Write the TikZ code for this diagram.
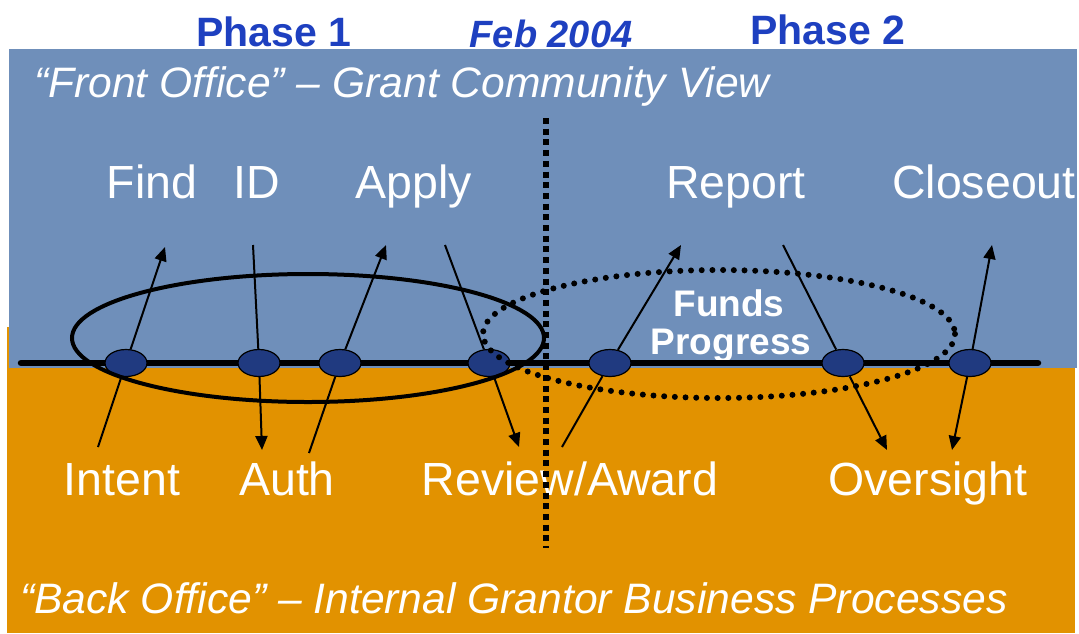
\documentclass[tikz,border=0pt]{standalone}
\usepackage{fontspec}
\setmainfont{Liberation Sans}
\usetikzlibrary{shapes.geometric,arrows.meta}
\definecolor{frontblue}{RGB}{111,143,186}
\definecolor{backorange}{RGB}{226,146,0}
\definecolor{titleblue}{RGB}{30,64,192}
\definecolor{stepfill}{RGB}{32,58,128}
\tikzset{
  lbl/.style={text=white,anchor=base,inner sep=0pt,font=\fontsize{46.5}{52}\selectfont},
  bigital/.style={text=white,anchor=base west,inner sep=0pt,font=\fontsize{42.6}{48}\selectfont\itshape},
  phase/.style={text=titleblue,anchor=base,inner sep=0pt,font=\fontsize{41}{46}\selectfont\bfseries},
  fundslbl/.style={text=white,anchor=base,inner sep=0pt,font=\fontsize{37}{40}\selectfont\bfseries},
  stepnode/.style={ellipse,draw=black,line width=1.2pt,fill=stepfill,minimum width=42pt,minimum height=27pt,inner sep=0pt},
  conn/.style={line width=2pt},
  arr/.style={line width=2pt,-{Triangle[length=14pt,width=12pt]}},
  dotring/.style={line width=6pt,line cap=round,dash pattern=on 0pt off 10.7pt},
}
\begin{document}
\begin{tikzpicture}[x=1pt,y=-1pt]
\useasboundingbox (0,0) rectangle (1079,633);
% backgrounds
\fill[backorange] (7,327) rectangle (1075,633);
\fill[frontblue] (8.5,49) rectangle (1077,368);
% titles
\node[phase] (ph1) at (274,46) {Phase 1};
\node[phase,font=\fontsize{38}{44}\selectfont\bfseries\itshape] (feb) at (551,47) {Feb 2004};
\node[phase] (ph2) at (828,44) {Phase 2};
\node[bigital] (front) at (34,97) {“Front Office” – Grant Community View};
\node[bigital] (back) at (20,613) {“Back Office” – Internal Grantor Business Processes};
% labels
\node[lbl] (find) at (152,198) {Find};
\node[lbl] (id) at (257,198) {ID};
\node[lbl] (apply) at (414,198) {Apply};
\node[lbl] (report) at (736,198) {Report};
\node[lbl] (closeout) at (984,198) {Closeout};
\node[lbl] (intent) at (122,495) {Intent};
\node[lbl] (auth) at (287,495) {Auth};
\node[lbl] (review) at (570,495) {Review/Award};
\node[lbl] (oversight) at (928,495) {Oversight};
\node[fundslbl] (fundsA) at (729,316) {Funds};
\node[fundslbl] (fundsB) at (731,354) {Progress};
% timeline
\coordinate (tl0) at (21,363);
\coordinate (tl1) at (1038,363);
\draw[line width=6.5pt,line cap=round] (tl0) -- (tl1);
% step nodes
\node[stepnode] (n1) at (126,363) {};
\node[stepnode] (n2) at (259,363) {};
\node[stepnode] (n3) at (340,363) {};
\node[stepnode] (n4) at (489,363) {};
\node[stepnode] (n5) at (610,363) {};
\node[stepnode] (n6) at (843,363) {};
\node[stepnode] (n7) at (970,363) {};
% connector end points
\coordinate (intentA) at (98,447);
\coordinate (findA) at (165,247);
\coordinate (idA) at (253,245);
\coordinate (authA) at (262,450);
\coordinate (authB) at (309,453);
\coordinate (applyA) at (386,245);
\coordinate (applyB) at (445,245);
\coordinate (reviewA) at (519,447);
\coordinate (reviewB) at (562,447);
\coordinate (reportA) at (681,245);
\coordinate (reportB) at (783,245);
\coordinate (oversA) at (887,450);
\coordinate (closeA) at (992,245);
\coordinate (oversB) at (952,450);
% connectors
\draw[conn] (intentA) -- (n1);
\draw[arr] (n1) -- (findA);
\draw[conn] (idA) -- (n2);
\draw[arr] (n2) -- (authA);
\draw[conn] (authB) -- (n3);
\draw[arr] (n3) -- (applyA);
\draw[conn] (applyB) -- (n4);
\draw[arr] (n4) -- (reviewA);
\draw[conn] (reviewB) -- (n5);
\draw[arr] (n5) -- (reportA);
\draw[conn] (reportB) -- (n6);
\draw[arr] (n6) -- (oversA);
\draw[arr] (n7) -- (closeA);
\draw[arr] (n7) -- (oversB);
% phase rings
\draw[line width=4pt] (308,338) ellipse [x radius=236,y radius=64];
\draw[dotring] (719,334) ellipse [x radius=236,y radius=64];
% Feb 2004 divider
\coordinate (divtop) at (546,118);
\coordinate (divbot) at (546,548);
\draw[line width=6pt,dash pattern=on 6pt off 4.7pt] (divtop) -- (divbot);
\end{tikzpicture}
\end{document}
